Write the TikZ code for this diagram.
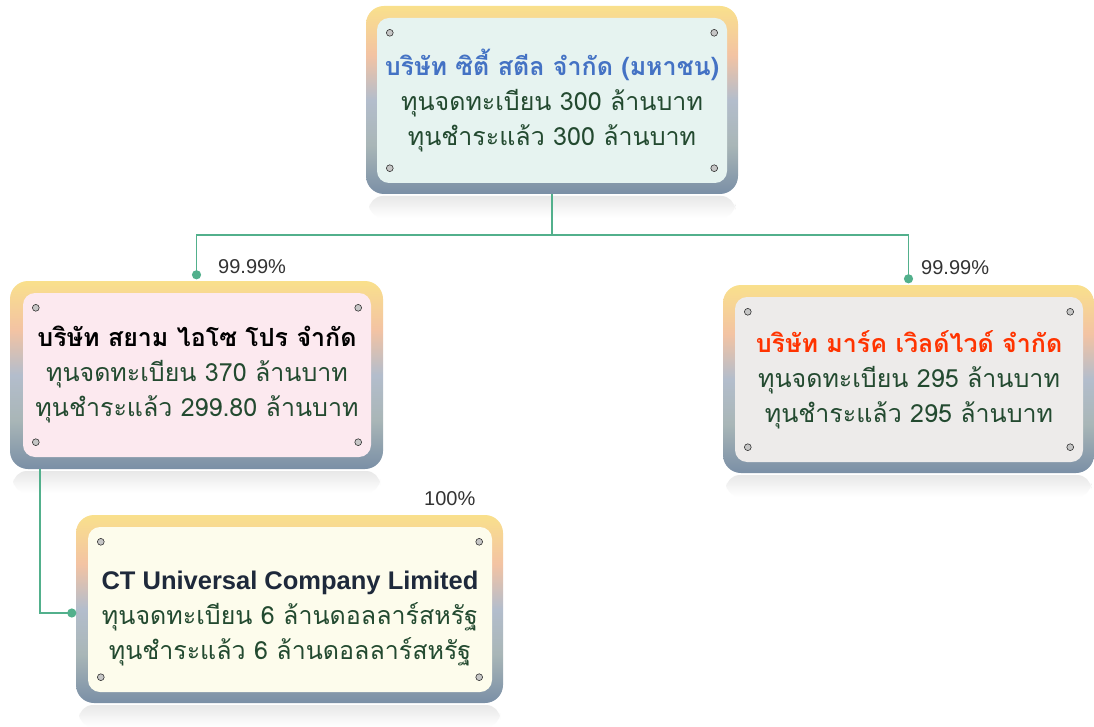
\documentclass[tikz,border=0pt]{standalone}
\usepackage{fontspec}
\setmainfont{Liberation Sans}
\newfontfamily\thaifont[Script=Thai]{Loma}
\usetikzlibrary{positioning,calc}

\definecolor{linkgreen}{HTML}{52B08C}
\definecolor{bodygreen}{HTML}{234A30}
\definecolor{ctblue}{HTML}{4472C4}
\definecolor{markred}{HTML}{FF3300}
\definecolor{ctunavy}{HTML}{1E293B}
\definecolor{ctsfill}{HTML}{E6F3F0}
\definecolor{siamfill}{HTML}{FCE9EF}
\definecolor{markfill}{HTML}{EDEBEA}
\definecolor{ctufill}{HTML}{FDFCEC}
\definecolor{plateslate}{HTML}{7A8FA6}
\definecolor{plategreen}{HTML}{A9B6B7}
\definecolor{platebluegray}{HTML}{B3BDCC}
\definecolor{platepeach}{HTML}{F3C3A3}
\definecolor{plategold}{HTML}{F9E08C}
\pgfdeclareverticalshading{plate}{100bp}{color(0bp)=(plateslate); color(25bp)=(plateslate); color(38bp)=(plategreen); color(50bp)=(platebluegray); color(62bp)=(platepeach); color(75bp)=(plategold); color(100bp)=(plategold)}

\tikzset{
  frame/.style={rounded corners=18pt, shading=plate, inner sep=0pt},
  panel/.style={rounded corners=12pt, align=center, inner sep=0pt, text=bodygreen,
    font=\thaifont\fontsize{25}{35}\selectfont},
  screw/.style={fill=gray!45, draw=gray!40!black, line width=0.6pt},
  link/.style={draw=linkgreen, line width=1.6pt},
  linkdot/.style={fill=linkgreen},
  pct/.style={font=\fontsize{20}{22}\selectfont, text=black!80, inner sep=0pt},
  mirror/.style={top color=gray!18, bottom color=white, rounded corners=14pt}
}

\begin{document}
\begin{tikzpicture}[x=1pt, y=-1pt]
  \useasboundingbox[fill=white] (0,0) rectangle (1094,727);

  % reflections under the plates
  \shade[mirror] (369,196) rectangle (735,218);
  \shade[mirror] (13,471) rectangle (380,493);
  \shade[mirror] (726,475) rectangle (1091,497);
  \shade[mirror] (79,705) rectangle (500,727);

  % plates
  \node[frame, minimum width=372, minimum height=188] (ctsf) at (552,100) {};
  \node[panel, fill=ctsfill, minimum width=350, minimum height=165] (ctsp) at (552,100.5)
    {{\bfseries\fontsize{25}{35}\selectfont\color{ctblue}บริษัท ซิตี้ สตีล จำกัด (มหาชน)}\\ทุนจดทะเบียน 300 ล้านบาท\\ทุนชำระแล้ว 300 ล้านบาท};

  \node[frame, minimum width=373, minimum height=188] (siamf) at (196.5,375) {};
  \node[panel, fill=siamfill, minimum width=348, minimum height=164] (siamp) at (197,375)
    {{\bfseries\fontsize{25}{35}\selectfont\color{black}บริษัท สยาม ไอโซ โปร จำกัด}\\ทุนจดทะเบียน 370 ล้านบาท\\ทุนชำระแล้ว 299.80 ล้านบาท};

  \node[frame, minimum width=371, minimum height=188] (markf) at (908.5,379) {};
  \node[panel, fill=markfill, minimum width=348, minimum height=165] (markp) at (909,379.5)
    {{\bfseries\fontsize{25}{35}\selectfont\color{markred}บริษัท มาร์ค เวิลด์ไวด์ จำกัด}\\ทุนจดทะเบียน 295 ล้านบาท\\ทุนชำระแล้ว 295 ล้านบาท};

  \node[frame, minimum width=427, minimum height=188] (ctuf) at (289.5,609) {};
  \node[panel, fill=ctufill, minimum width=404, minimum height=165] (ctup) at (290,609.5)
    {\raisebox{-8pt}[\height][\depth]{\begin{tabular}{@{}c@{}}{\normalfont\bfseries\fontsize{25.5}{35}\selectfont\color{ctunavy}CT Universal Company Limited}\\ทุนจดทะเบียน 6 ล้านดอลลาร์สหรัฐ\\ทุนชำระแล้ว 6 ล้านดอลลาร์สหรัฐ\end{tabular}}};

  % screws
  \foreach \p in {ctsp, siamp, markp, ctup} {
    \filldraw[screw] ($(\p.north west)+(13,15)$) circle (3.4);
    \filldraw[screw] ($(\p.north east)+(-13,15)$) circle (3.4);
    \filldraw[screw] ($(\p.south west)+(13,-15)$) circle (3.4);
    \filldraw[screw] ($(\p.south east)+(-13,-15)$) circle (3.4);
  }

  % connectors
  \draw[link] (ctsf.south) -- ++(0,41) -| ([yshift=6pt]siamf.north);
  \draw[link] (ctsf.south) -- ++(0,41) -| ([yshift=6pt]markf.north);
  \fill[linkdot] ([yshift=6pt]siamf.north) circle (4.6);
  \fill[linkdot] ([yshift=6pt]markf.north) circle (4.6);
  \draw[link] ([xshift=-156.5pt]siamf.south) |- ([xshift=-4pt,yshift=-4pt]ctuf.west);
  \fill[linkdot] ([xshift=-4pt,yshift=-4pt]ctuf.west) circle (4.6);

  % shares
  \node[pct, anchor=west] (pctsiam) at (218,267) {99.99\%};
  \node[pct, anchor=west] (pctmark) at (921,268) {99.99\%};
  \node[pct, anchor=west] (pctctu) at (424,499) {100\%};
\end{tikzpicture}
\end{document}
